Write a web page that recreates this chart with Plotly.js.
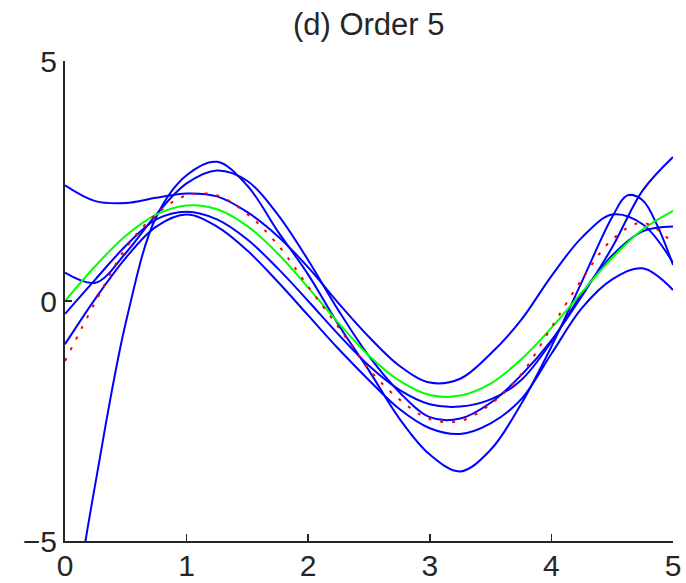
<!DOCTYPE html>
<html>
<head>
<meta charset="utf-8">
<script src="https://cdn.plot.ly/plotly-3.0.1.min.js"></script>
<style>html,body{margin:0;padding:0;background:#fff;}#chart{width:686px;height:583px;}</style>
</head>
<body>
<div id="chart"></div>
<script>
// sample positions along x
const xGrid = [0, 0.25, 0.5, 0.75, 1.0, 1.25, 1.5, 1.75, 2.0, 2.25, 2.5, 2.75, 3.0, 3.25, 3.5, 3.75, 4.0, 4.25, 4.5, 4.75, 5.0];
// finer positions for the steepest fit
const xFitA = [0, 0.125, 0.25, 0.5, 0.75, 1.0, 1.25, 1.5, 1.75, 2.0, 2.25, 2.5, 2.75, 3.0, 3.25, 3.5, 3.75, 4.0, 4.25, 4.5, 4.625, 4.75, 4.875, 5.0];

// five fitted order-5 curves (blue)
const fitA = [-8.2, -5.7, -3.8, -0.45, 1.75, 2.62, 2.9, 2.4, 1.45, 0.55, -0.5, -1.45, -2.45, -3.2, -3.55, -3.1, -2.15, -0.95, 0.4, 1.75, 2.2, 2.1, 1.55, 0.75];
const fitB = [0.59, 0.38, 1.0, 1.8, 2.45, 2.72, 2.5, 1.8, 0.85, -0.2, -1.15, -1.9, -2.42, -2.45, -2.12, -1.55, -0.82, 0.1, 1.12, 2.3, 3.0];
const fitC = [2.41, 2.08, 2.04, 2.15, 2.24, 2.18, 1.85, 1.35, 0.7, -0.05, -0.75, -1.35, -1.7, -1.62, -1.1, -0.4, 0.52, 1.32, 1.8, 1.6, 0.8];
const fitE = [-0.27, 0.45, 1.15, 1.7, 1.86, 1.7, 1.28, 0.68, 0.0, -0.7, -1.35, -1.85, -2.15, -2.2, -2.05, -1.65, -0.85, 0.15, 0.95, 1.45, 1.55];
const fitF = [-0.9, 0.05, 0.9, 1.55, 1.8, 1.55, 1.05, 0.4, -0.3, -1.0, -1.65, -2.25, -2.65, -2.77, -2.55, -2.05, -1.1, -0.15, 0.45, 0.68, 0.23];

// true function (green) and average fit (red dotted)
const trueCurve = [0, 0.73, 1.36, 1.8, 1.99, 1.91, 1.56, 0.99, 0.28, -0.46, -1.14, -1.66, -1.96, -1.97, -1.72, -1.22, -0.56, 0.18, 0.9, 1.49, 1.88];
const avgFit = [-1.25, -0.02, 1.1, 1.81, 2.2, 2.2, 1.81, 1.17, 0.3, -0.55, -1.42, -2.05, -2.46, -2.5, -2.15, -1.53, -0.55, 0.45, 1.28, 1.63, 1.2];

const xTicks = [0, 1, 2, 3, 4, 5];
const yTicks = [-5, 0, 5];
const titleText = "(d) Order 5";

const blueLine = {color: '#0000ff', width: 2, shape: 'spline', smoothing: 1.0};
const traces = [
  {x: xFitA, y: fitA, type: 'scatter', mode: 'lines', line: blueLine, hoverinfo: 'skip'}
];
[fitB, fitC, fitE, fitF].forEach(f => traces.push({
  x: xGrid, y: f, type: 'scatter', mode: 'lines', line: blueLine, hoverinfo: 'skip'
}));
traces.push({
  x: xGrid, y: trueCurve, type: 'scatter', mode: 'lines',
  line: {color: '#00ff00', width: 2, shape: 'spline', smoothing: 1.0},
  hoverinfo: 'skip'
});
traces.push({
  x: xGrid, y: avgFit, type: 'scatter', mode: 'lines',
  line: {color: '#ff0000', width: 2, dash: '3px,9px', shape: 'spline', smoothing: 1.0},
  hoverinfo: 'skip'
});

const fontFam = '"Liberation Sans", Arial, sans-serif';
const layout = {
  width: 686, height: 583,
  margin: {l: 64.5, r: 13.3, t: 61, b: 42, pad: 0},
  paper_bgcolor: '#ffffff', plot_bgcolor: '#ffffff',
  showlegend: false,
  title: {text: titleText, font: {family: fontFam, size: 31, color: '#262626'},
          x: 0.5375, xref: 'container', xanchor: 'center', y: 0.959, yref: 'container', yanchor: 'middle'},
  xaxis: {range: [0, 5], tickvals: xTicks, ticktext: xTicks.map(String), ticks: 'inside', ticklen: 7, tickwidth: 1.5,
          tickcolor: '#262626', showline: true, linecolor: '#262626', linewidth: 2, showgrid: false, zeroline: false,
          ticklabelstandoff: -3,
          tickfont: {family: fontFam, size: 30, color: '#262626'}, fixedrange: true, mirror: false},
  yaxis: {range: [-5, 5], tickvals: yTicks, ticktext: ['\u22125', '0', '5'], ticks: 'inside', ticklen: 7, tickwidth: 1.5,
          tickcolor: '#262626', showline: true, linecolor: '#262626', linewidth: 2, showgrid: false, zeroline: false,
          tickfont: {family: fontFam, size: 30, color: '#262626'}, fixedrange: true, mirror: false}
};

Plotly.newPlot('chart', traces, layout, {staticPlot: true, displayModeBar: false});
</script>
</body>
</html>
